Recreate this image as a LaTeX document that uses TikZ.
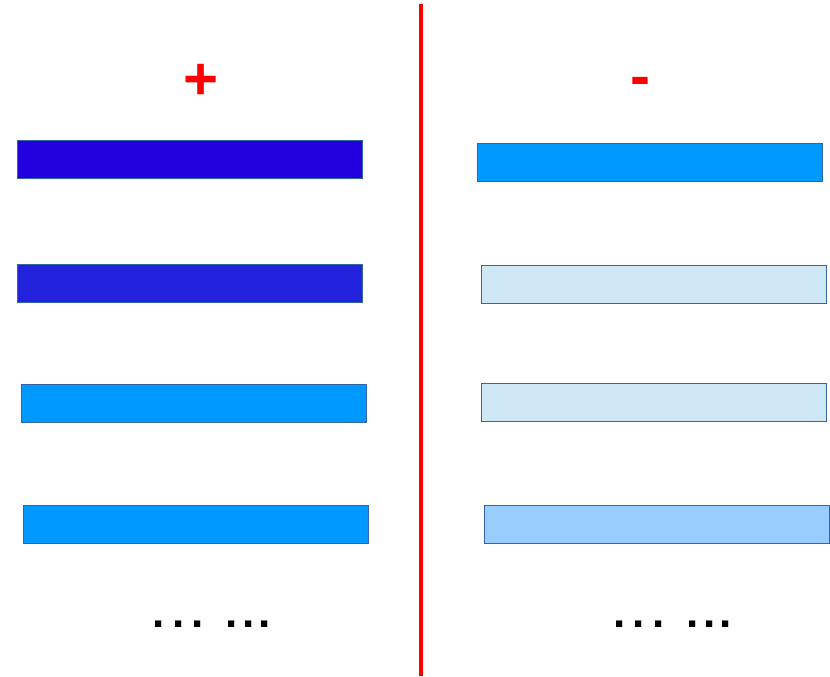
\documentclass[tikz,border=0pt]{standalone}
\usepackage{fontspec}
\setmainfont{Liberation Sans}
\definecolor{edge}{HTML}{3465A4}
\definecolor{darkA}{HTML}{2200DD}
\definecolor{darkB}{HTML}{2323DD}
\definecolor{bright}{HTML}{0099FF}
\definecolor{pale}{HTML}{CFE7F5}
\definecolor{mid}{HTML}{99CCFF}
\begin{document}
\begin{tikzpicture}[x=1pt,y=-1pt,
  bar/.style={draw=edge,line width=0.8pt,inner sep=0pt,minimum width=345pt,minimum height=38pt,anchor=north west},
  sign/.style={text=red,font=\fontsize{60}{60}\bfseries\selectfont,inner sep=0pt},
  dots/.style={font=\fontsize{44}{44}\bfseries\selectfont,inner sep=0pt,anchor=base}]
\useasboundingbox[fill=white] (0,0) rectangle (830,677);
% divider
\coordinate (top) at (421,4);
\coordinate (bottom) at (421,676);
\draw[red,line width=3.5pt] (top) -- (bottom);
% signs
\node[sign] (plus) at (201,82) {+};
\node[sign] (minus) at (640,87) {-};
% left bars
\node[bar,fill=darkA] (l1) at (17,139.5) {};
\node[bar,fill=darkB] (l2) at (17,263.5) {};
\node[bar,fill=bright] (l3) at (20.5,384) {};
\node[bar,fill=bright] (l4) at (22.5,505) {};
% right bars
\node[bar,fill=bright] (r1) at (476.5,142.5) {};
\node[bar,fill=pale] (r2) at (480.5,265) {};
\node[bar,fill=pale] (r3) at (480.5,383) {};
\node[bar,fill=mid] (r4) at (483.5,505) {};
% ellipses
\node[dots] (ld1) at (178.5,627) {.\hspace{7.3pt}.\hspace{7.3pt}.};
\node[dots] (ld2) at (248.5,627) {.\hspace{4.3pt}.\hspace{4.3pt}.};
\node[dots] (rd1) at (639,627) {.\hspace{7.3pt}.\hspace{7.3pt}.};
\node[dots] (rd2) at (709.5,627) {.\hspace{4.3pt}.\hspace{4.3pt}.};
\end{tikzpicture}
\end{document}
